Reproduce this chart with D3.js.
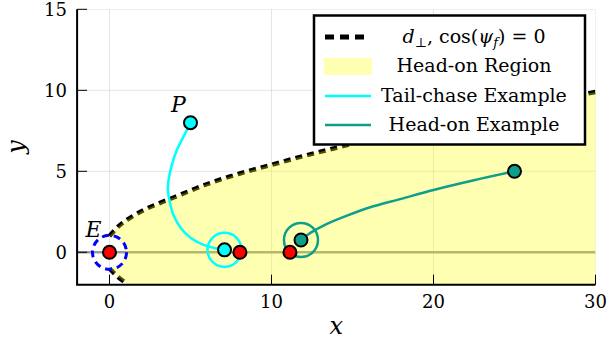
<!DOCTYPE html>
<html><head><meta charset="utf-8">
<script src="https://cdn.jsdelivr.net/npm/d3@7"></script>
<style>body{margin:0;background:#fff}</style>
</head><body>
<script>
// ---------- data ----------
const xTicks = [0, 10, 20, 30];
const yTicks = [0, 5, 10, 15];
// head-on region boundary (d_perp, cos(psi_f) = 0), upper branch
const boundUpperX = [0, 0.5, 1, 2, 3, 4, 6, 8, 10, 12, 14, 16, 18, 20, 22, 24, 26, 28, 30];
const boundUpperY = [1.0, 1.55, 1.95, 2.55, 3.0, 3.4, 4.2, 4.85, 5.4, 5.95, 6.45, 6.95, 7.4, 7.85, 8.3, 8.7, 9.1, 9.5, 9.9];
// lower branch
const boundLowerX = [0, 0.5, 1, 1.1];
const boundLowerY = [-1.0, -1.5, -1.9, -2.0];
// capture arc closing the region near E
const arcX = [0.5, 0.87, 1.0, 0.87, 0.5];
const arcY = [0.87, 0.5, 0.0, -0.5, -0.87];
// tail-chase example trajectory
const tailX = [5.0, 4.6, 4.15, 3.85, 3.65, 3.6, 3.7, 3.95, 4.4, 5.0, 5.7, 6.4, 7.1];
const tailY = [8.0, 7.2, 6.3, 5.4, 4.5, 3.9, 3.2, 2.3, 1.5, 0.9, 0.5, 0.28, 0.15];
// head-on example trajectory
const headX = [25.0, 22.5, 20.0, 18.0, 16.0, 14.5, 13.3, 12.4, 11.82];
const headY = [5.0, 4.45, 3.85, 3.3, 2.75, 2.2, 1.7, 1.2, 0.76];
// evader positions (red dots)
const evaderX = [0, 8.05, 11.14];
const evaderY = [0, 0, 0];
const captureRadius = 1.05;
const legendLabels = ["Head-on Region", "Tail-chase Example", "Head-on Example"];

// ---------- layout ----------
const W = 608, H = 345;
const svg = d3.select("body").append("svg").attr("width", W).attr("height", H)
  .style("font-family", "'DejaVu Serif', serif");
const x = d3.scaleLinear().domain([-2, 30]).range([77.1, 595.5]);
const y = d3.scaleLinear().domain([-2, 15]).range([284.7, 9.3]);
const zip = (a, b) => a.map((v, i) => [v, b[i]]);
const line = d3.line().x(d => x(d[0])).y(d => y(d[1]));
const curve = d3.line().x(d => x(d[0])).y(d => y(d[1])).curve(d3.curveCatmullRom);

svg.append("defs").append("clipPath").attr("id", "clip").append("rect")
  .attr("x", x(-2)).attr("y", y(15)).attr("width", x(30) - x(-2)).attr("height", y(-2) - y(15));
const plot = svg.append("g").attr("clip-path", "url(#clip)");

// grid
plot.selectAll(".gx").data(xTicks).join("line")
  .attr("x1", d => x(d)).attr("x2", d => x(d)).attr("y1", y(-2)).attr("y2", y(15))
  .attr("stroke", "#000").attr("stroke-opacity", 0.1).attr("stroke-width", 1);
plot.selectAll(".gy").data(yTicks).join("line")
  .attr("y1", d => y(d)).attr("y2", d => y(d)).attr("x1", x(-2)).attr("x2", x(30))
  .attr("stroke", "#000").attr("stroke-opacity", 0.1).attr("stroke-width", 1);

// zero line
plot.append("line").attr("x1", x(-2)).attr("x2", x(30)).attr("y1", y(0)).attr("y2", y(0))
  .attr("stroke", "#999").attr("stroke-width", 2.5);

// boundary dashed
const upper = zip(boundUpperX, boundUpperY), lower = zip(boundLowerX, boundLowerY);
[upper, lower].forEach(pts => {
  plot.append("path").attr("d", curve(pts)).attr("fill", "none")
    .attr("stroke", "#000").attr("stroke-width", 4.5).attr("stroke-dasharray", "7,5");
});

// head-on region fill
const regionPts = upper.concat([[31, 10], [31, -3], [1.1, -3]]).concat(lower.slice().reverse())
  .concat(zip(arcX, arcY).slice().reverse());
plot.append("path").attr("d", line(regionPts) + "Z")
  .attr("fill", "#ffff00").attr("fill-opacity", 0.3);

// blue dashed circle at E
plot.append("circle").attr("cx", x(0)).attr("cy", y(0)).attr("r", x(captureRadius) - x(0))
  .attr("fill", "none").attr("stroke", "#0000ff").attr("stroke-width", 3).attr("stroke-dasharray", "7,5");

// trajectories
const cyan = "#00ffff", teal = "#0e9f8b";
plot.append("path").attr("d", curve(zip(tailX, tailY))).attr("fill", "none")
  .attr("stroke", cyan).attr("stroke-width", 2.5);
plot.append("path").attr("d", curve(zip(headX, headY))).attr("fill", "none")
  .attr("stroke", teal).attr("stroke-width", 2.5);

// capture circles at final pursuer positions
const tn = tailX.length - 1, hn = headX.length - 1;
plot.append("circle").attr("cx", x(tailX[tn])).attr("cy", y(tailY[tn])).attr("r", x(captureRadius) - x(0))
  .attr("fill", "none").attr("stroke", cyan).attr("stroke-width", 2.5);
plot.append("circle").attr("cx", x(headX[hn])).attr("cy", y(headY[hn])).attr("r", x(captureRadius) - x(0))
  .attr("fill", "none").attr("stroke", teal).attr("stroke-width", 2.5);

// markers
const mk = (cx, cy, fill) => plot.append("circle").attr("cx", x(cx)).attr("cy", y(cy)).attr("r", 6.5)
  .attr("fill", fill).attr("stroke", "#000").attr("stroke-width", 2);
evaderX.forEach((v, i) => mk(v, evaderY[i], "#ff0000"));
mk(tailX[0], tailY[0], cyan); mk(tailX[tn], tailY[tn], cyan);
mk(headX[0], headY[0], teal); mk(headX[hn], headY[hn], teal);

// point labels
svg.append("text").attr("x", x(tailX[0]) - 12).attr("y", y(tailY[0]) - 11).attr("text-anchor", "middle")
  .attr("font-style", "italic").attr("font-size", 22).text("P");
svg.append("text").attr("x", x(0) - 16).attr("y", y(0) - 15).attr("text-anchor", "middle")
  .attr("font-style", "italic").attr("font-size", 22).text("E");

// axes
svg.append("line").attr("x1", x(-2)).attr("x2", x(-2)).attr("y1", y(15)).attr("y2", y(-2))
  .attr("stroke", "#000").attr("stroke-width", 2);
svg.append("line").attr("x1", x(-2) - 1).attr("x2", x(30)).attr("y1", y(-2)).attr("y2", y(-2))
  .attr("stroke", "#000").attr("stroke-width", 2);
svg.selectAll(".tx").data(xTicks).join("line")
  .attr("x1", d => x(d)).attr("x2", d => x(d)).attr("y1", y(-2)).attr("y2", y(-2) - 10)
  .attr("stroke", "#000").attr("stroke-width", 1);
svg.selectAll(".ty").data(yTicks).join("line")
  .attr("y1", d => y(d)).attr("y2", d => y(d)).attr("x1", x(-2)).attr("x2", x(-2) + 10)
  .attr("stroke", "#000").attr("stroke-width", 1);
svg.selectAll(".lx").data(xTicks).join("text")
  .attr("x", d => x(d)).attr("y", 308).attr("text-anchor", "middle").attr("font-size", 18).text(d => d);
svg.selectAll(".ly").data(yTicks).join("text")
  .attr("x", 67).attr("y", d => y(d) + 6.5).attr("text-anchor", "end").attr("font-size", 18).text(d => d);
svg.append("text").attr("x", x(14)).attr("y", 334).attr("text-anchor", "middle")
  .attr("font-style", "italic").attr("font-size", 24).text("x");
svg.append("text").attr("transform", "translate(24,147) rotate(-90)").attr("text-anchor", "middle")
  .attr("font-style", "italic").attr("font-size", 24).text("y");

// legend
const lg = svg.append("g");
lg.append("rect").attr("x", 314).attr("y", 15.5).attr("width", 271).attr("height", 129)
  .attr("fill", "#fff").attr("stroke", "#000").attr("stroke-width", 2.5);
lg.append("line").attr("x1", 325).attr("x2", 366).attr("y1", 37).attr("y2", 37)
  .attr("stroke", "#000").attr("stroke-width", 5).attr("stroke-dasharray", "9,6");
lg.append("rect").attr("x", 324).attr("y", 58).attr("width", 48).attr("height", 17)
  .attr("fill", "#ffff00").attr("fill-opacity", 0.3);
lg.append("line").attr("x1", 325).attr("x2", 371).attr("y1", 96).attr("y2", 96)
  .attr("stroke", cyan).attr("stroke-width", 2.5);
lg.append("line").attr("x1", 325).attr("x2", 371).attr("y1", 125).attr("y2", 125)
  .attr("stroke", teal).attr("stroke-width", 2.5);
const mt = lg.append("text").attr("x", 474).attr("y", 43).attr("text-anchor", "middle").attr("font-size", 19);
mt.append("tspan").attr("font-style", "italic").text("d");
mt.append("tspan").attr("font-size", 13).attr("dy", 4).text("⊥");
mt.append("tspan").attr("dy", -4).text(", cos(");
mt.append("tspan").attr("font-style", "italic").text("ψ");
mt.append("tspan").attr("font-style", "italic").attr("font-size", 13).attr("dy", 4).text("f");
mt.append("tspan").attr("dy", -4).text(") = 0");
const ly = [72, 102, 131];
legendLabels.forEach((t, i) => lg.append("text").attr("x", 474).attr("y", ly[i])
  .attr("text-anchor", "middle").attr("font-size", 19).text(t));
</script>
</body></html>
